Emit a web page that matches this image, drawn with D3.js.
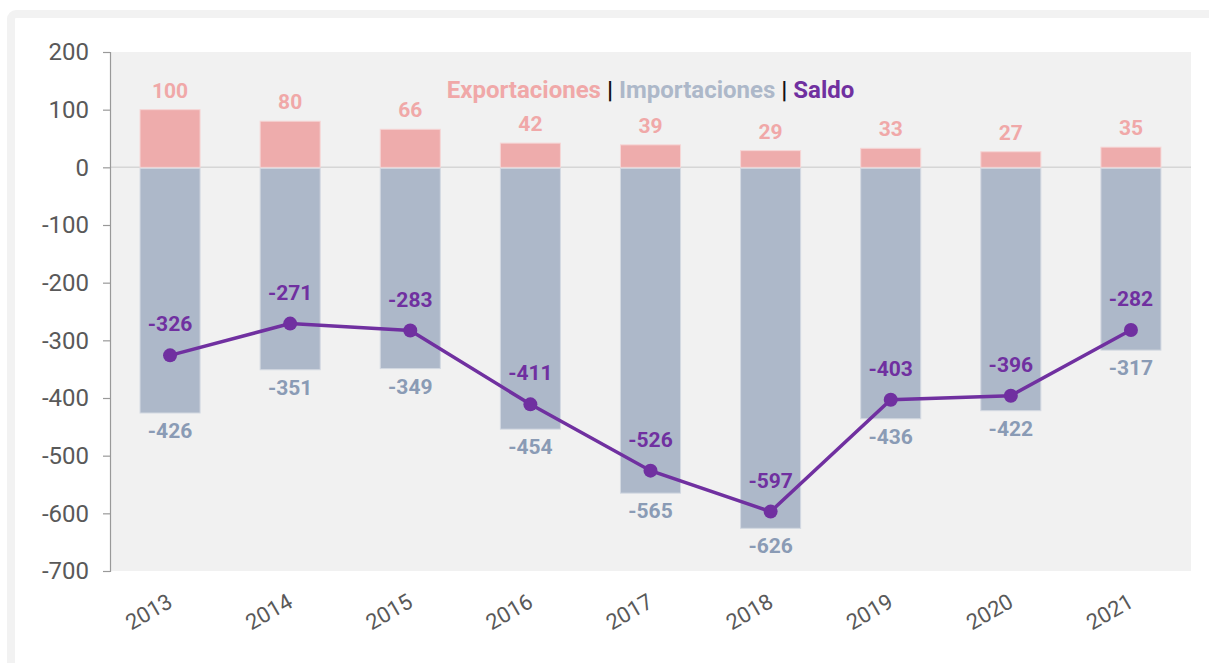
<!DOCTYPE html>
<html lang="es">
<head>
<meta charset="utf-8">
<script src="https://d3js.org/d3.v7.min.js"></script>
<style>
  body { margin: 0; background: #fff; font-family: Roboto, "Open Sans", sans-serif; }
</style>
</head>
<body>
<script>
// chart data
var years = ["2013", "2014", "2015", "2016", "2017", "2018", "2019", "2020", "2021"];
var exportaciones = [100, 80, 66, 42, 39, 29, 33, 27, 35];
var importaciones = [-426, -351, -349, -454, -565, -626, -436, -422, -317];
var saldo = [-326, -271, -283, -411, -526, -597, -403, -396, -282];
var yTicks = [200, 100, 0, -100, -200, -300, -400, -500, -600, -700];

var width = 1209, height = 663;
var colExp = "#eeacac", colExpText = "#f0a8a8";
var colImp = "#adb8c9", colImpText = "#8a9bb5";
var colSaldo = "#7030a0";

var svg = d3.select("body").append("svg")
  .attr("width", width)
  .attr("height", height);

// card frame
svg.append("rect")
  .attr("x", 11).attr("y", 14)
  .attr("width", 1400).attr("height", 900)
  .attr("rx", 5)
  .attr("fill", "#fff")
  .attr("stroke", "#f2f2f2")
  .attr("stroke-width", 8);

var plotLeft = 110, plotRight = 1191, plotTop = 52, plotBottom = 571;

var x = d3.scaleBand().domain(years).range([plotLeft, plotRight]).paddingInner(0.5).paddingOuter(0.25);
var y = d3.scaleLinear().domain([-700, 200]).range([plotBottom, plotTop]);

// plot background
svg.append("rect")
  .attr("x", plotLeft).attr("y", plotTop)
  .attr("width", plotRight - plotLeft).attr("height", plotBottom - plotTop)
  .attr("fill", "#f1f1f1");

// zero line
svg.append("line")
  .attr("x1", plotLeft).attr("x2", plotRight)
  .attr("y1", y(0)).attr("y2", y(0))
  .attr("stroke", "#d6d6d6").attr("stroke-width", 1.5);

// y axis (plain hyphen for negatives, like the original)
var yAxis = svg.append("g")
  .attr("transform", "translate(" + plotLeft + ",0)")
  .call(d3.axisLeft(y).tickValues(yTicks).tickSize(7).tickPadding(14).tickFormat(function(d) { return String(d); }));
yAxis.select(".domain").attr("stroke", "#999").attr("stroke-width", 1.2);
yAxis.selectAll(".tick line").attr("stroke", "#999").attr("stroke-width", 1.2);
yAxis.selectAll(".tick text")
  .attr("fill", "#595959")
  .style("font-family", "Roboto, sans-serif")
  .style("font-size", "24px");

// x labels
svg.append("g").selectAll("text")
  .data(years)
  .enter().append("text")
  .attr("transform", function(d) {
    return "translate(" + (x(d) + x.bandwidth() / 2 + 4) + "," + 606 + ") rotate(-30)";
  })
  .attr("text-anchor", "end")
  .attr("fill", "#595959")
  .style("font-size", "22px")
  .text(function(d) { return d; });

// bars
svg.append("g").selectAll("rect")
  .data(years)
  .enter().append("rect")
  .attr("x", function(d) { return x(d); })
  .attr("y", function(d, i) { return y(exportaciones[i]); })
  .attr("width", x.bandwidth())
  .attr("height", function(d, i) { return y(0) - y(exportaciones[i]); })
  .attr("fill", colExp)
  .attr("stroke", "#f6d6d6").attr("stroke-width", 1);

svg.append("g").selectAll("rect")
  .data(years)
  .enter().append("rect")
  .attr("x", function(d) { return x(d); })
  .attr("y", y(0) + 1)
  .attr("width", x.bandwidth())
  .attr("height", function(d, i) { return y(importaciones[i]) - y(0) - 1; })
  .attr("fill", colImp)
  .attr("stroke", "#d3d9e2").attr("stroke-width", 1);

// bar labels
svg.append("g").selectAll("text")
  .data(years)
  .enter().append("text")
  .attr("x", function(d) { return x(d) + x.bandwidth() / 2; })
  .attr("y", function(d, i) { return y(exportaciones[i]) - 12; })
  .attr("text-anchor", "middle")
  .attr("fill", colExpText)
  .style("font-size", "21px").style("font-weight", "bold")
  .text(function(d, i) { return exportaciones[i]; });

svg.append("g").selectAll("text")
  .data(years)
  .enter().append("text")
  .attr("x", function(d) { return x(d) + x.bandwidth() / 2; })
  .attr("y", function(d, i) { return y(importaciones[i]) + 25; })
  .attr("text-anchor", "middle")
  .attr("fill", colImpText)
  .style("font-size", "21px").style("font-weight", "bold")
  .text(function(d, i) { return importaciones[i]; });

// saldo line
var line = d3.line()
  .x(function(d, i) { return x(years[i]) + x.bandwidth() / 2; })
  .y(function(d) { return y(d); });

svg.append("path")
  .datum(saldo)
  .attr("d", line)
  .attr("fill", "none")
  .attr("stroke", colSaldo)
  .attr("stroke-width", 3.5);

svg.append("g").selectAll("circle")
  .data(saldo)
  .enter().append("circle")
  .attr("cx", function(d, i) { return x(years[i]) + x.bandwidth() / 2; })
  .attr("cy", function(d) { return y(d); })
  .attr("r", 7)
  .attr("fill", colSaldo);

svg.append("g").selectAll("text")
  .data(saldo)
  .enter().append("text")
  .attr("x", function(d, i) { return x(years[i]) + x.bandwidth() / 2; })
  .attr("y", function(d) { return y(d) - 24; })
  .attr("text-anchor", "middle")
  .attr("fill", colSaldo)
  .style("font-size", "21px").style("font-weight", "bold")
  .text(function(d) { return d; });

// legend title
var legend = svg.append("text")
  .attr("x", (plotLeft + plotRight) / 2)
  .attr("y", 98)
  .attr("text-anchor", "middle")
  .style("font-size", "24px").style("font-weight", "bold");
legend.append("tspan").attr("fill", colExpText).text("Exportaciones");
legend.append("tspan").attr("fill", "#111").text(" | ");
legend.append("tspan").attr("fill", colImp).text("Importaciones");
legend.append("tspan").attr("fill", "#111").text(" | ");
legend.append("tspan").attr("fill", colSaldo).text("Saldo");
</script>
</body>
</html>
